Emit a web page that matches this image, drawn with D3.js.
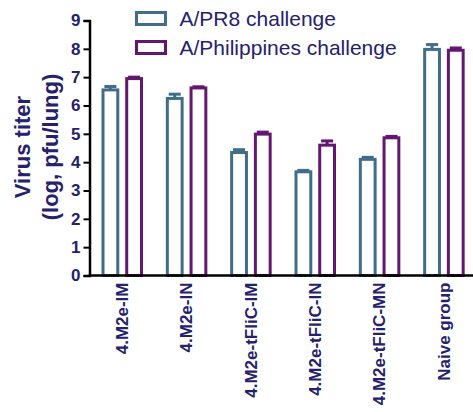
<!DOCTYPE html>
<html>
<head>
<meta charset="utf-8">
<script src="https://cdn.jsdelivr.net/npm/d3@7"></script>
<style>
  html, body { margin: 0; padding: 0; background: #fff; }
  svg { display: block; font-family: "Liberation Sans", Arial, Helvetica, sans-serif; }
</style>
</head>
<body>
<svg id="chart" width="473" height="412"></svg>
<script>
// Lung virus titers after challenge, per immunisation group
const groups = ["4.M2e-IM", "4.M2e-IN", "4.M2e-tFliC-IM", "4.M2e-tFliC-IN", "4.M2e-tFliC-MN", "Naive group"];
const seriesNames = ["A/PR8 challenge", "A/Philippines challenge"];
const pr8Values = [6.55, 6.25, 4.34, 3.66, 4.10, 7.98];
const pr8Errors = [0.12, 0.15, 0.10, 0.05, 0.07, 0.17];
const philValues = [6.95, 6.62, 4.99, 4.60, 4.86, 7.95];
const philErrors = [0.05, 0.04, 0.07, 0.15, 0.05, 0.08];
const yTicks = [0, 1, 2, 3, 4, 5, 6, 7, 8, 9];

const colors = ["#3f6d8a", "#63176f"];
const textColor = "#25216c";

const svg = d3.select("#chart");

const y = d3.scaleLinear().domain([0, 9]).range([275.5, 20.5]);
const x0 = d3.scaleBand().domain(groups).range([90, 476]).padding(0);
const x1 = d3.scaleBand().domain(seriesNames).range([11.5, 53]).paddingInner(0.25);

const rows = groups.map((g, i) => ({
  group: g,
  bars: [
    { name: seriesNames[0], value: pr8Values[i], err: pr8Errors[i], color: colors[0] },
    { name: seriesNames[1], value: philValues[i], err: philErrors[i], color: colors[1] }
  ]
}));

const sw = 3;
const gGroups = svg.append("g").selectAll("g").data(rows).join("g")
  .attr("transform", d => `translate(${x0(d.group)},0)`);

const bar = gGroups.selectAll("g").data(d => d.bars).join("g");

// error bars (upper only)
bar.append("line")
  .attr("x1", d => x1(d.name) + x1.bandwidth() / 2)
  .attr("x2", d => x1(d.name) + x1.bandwidth() / 2)
  .attr("y1", d => y(d.value))
  .attr("y2", d => y(d.value + d.err))
  .attr("stroke", d => d.color).attr("stroke-width", sw);
bar.append("line")
  .attr("x1", d => x1(d.name) + x1.bandwidth() / 2 - 6)
  .attr("x2", d => x1(d.name) + x1.bandwidth() / 2 + 6)
  .attr("y1", d => y(d.value + d.err))
  .attr("y2", d => y(d.value + d.err))
  .attr("stroke", d => d.color).attr("stroke-width", sw);

// hollow bars
bar.append("rect")
  .attr("x", d => x1(d.name) + sw / 2)
  .attr("width", x1.bandwidth() - sw)
  .attr("y", d => y(d.value))
  .attr("height", d => y(0) - y(d.value))
  .attr("fill", "#fff")
  .attr("stroke", d => d.color).attr("stroke-width", sw);

// y axis
const yAxis = svg.append("g").attr("transform", "translate(89.5,0)")
  .call(d3.axisLeft(y).tickValues(yTicks).tickSize(6).tickPadding(3).tickFormat(d3.format("d")));
yAxis.select(".domain").attr("stroke", "#000").attr("stroke-width", 2.5);
yAxis.selectAll(".tick line").attr("stroke", "#000").attr("stroke-width", 2);
yAxis.selectAll(".tick text")
  .attr("fill", textColor).attr("font-size", 17).attr("font-weight", "bold")
  .attr("font-family", "Liberation Sans, Arial, sans-serif");

// x axis
const xAxis = svg.append("g").attr("transform", `translate(0,${y(0)})`)
  .call(d3.axisBottom(x0).tickSize(0).tickPadding(6));
xAxis.select(".domain").attr("stroke", "#000").attr("stroke-width", 2.5)
  .attr("d", "M88.5,0H473");
xAxis.selectAll(".tick text")
  .attr("fill", textColor).attr("font-size", 17).attr("font-weight", "bold")
  .attr("font-family", "Liberation Sans, Arial, sans-serif")
  .attr("text-anchor", "end")
  .attr("transform", "rotate(-90)")
  .attr("x", -7).attr("y", 0).attr("dy", "0.35em");

// y axis title
const title = svg.append("text")
  .attr("transform", "translate(0,147) rotate(-90)")
  .attr("text-anchor", "middle")
  .attr("fill", textColor).attr("font-weight", "bold").attr("font-size", 22);
title.append("tspan").attr("x", 0).attr("y", 30).text("Virus titer");
title.append("tspan").attr("x", 0).attr("y", 58).text("(log, pfu/lung)");

// legend
const legend = svg.append("g").selectAll("g").data(seriesNames).join("g")
  .attr("transform", (d, i) => `translate(136.5,${12.5 + i * 29})`);
legend.append("rect")
  .attr("width", 29).attr("height", 12)
  .attr("fill", "#fff")
  .attr("stroke", (d, i) => colors[i]).attr("stroke-width", sw);
legend.append("text")
  .attr("x", 43).attr("y", 13.5)
  .attr("fill", textColor).attr("font-size", 21)
  .text(d => d);
</script>
</body>
</html>
